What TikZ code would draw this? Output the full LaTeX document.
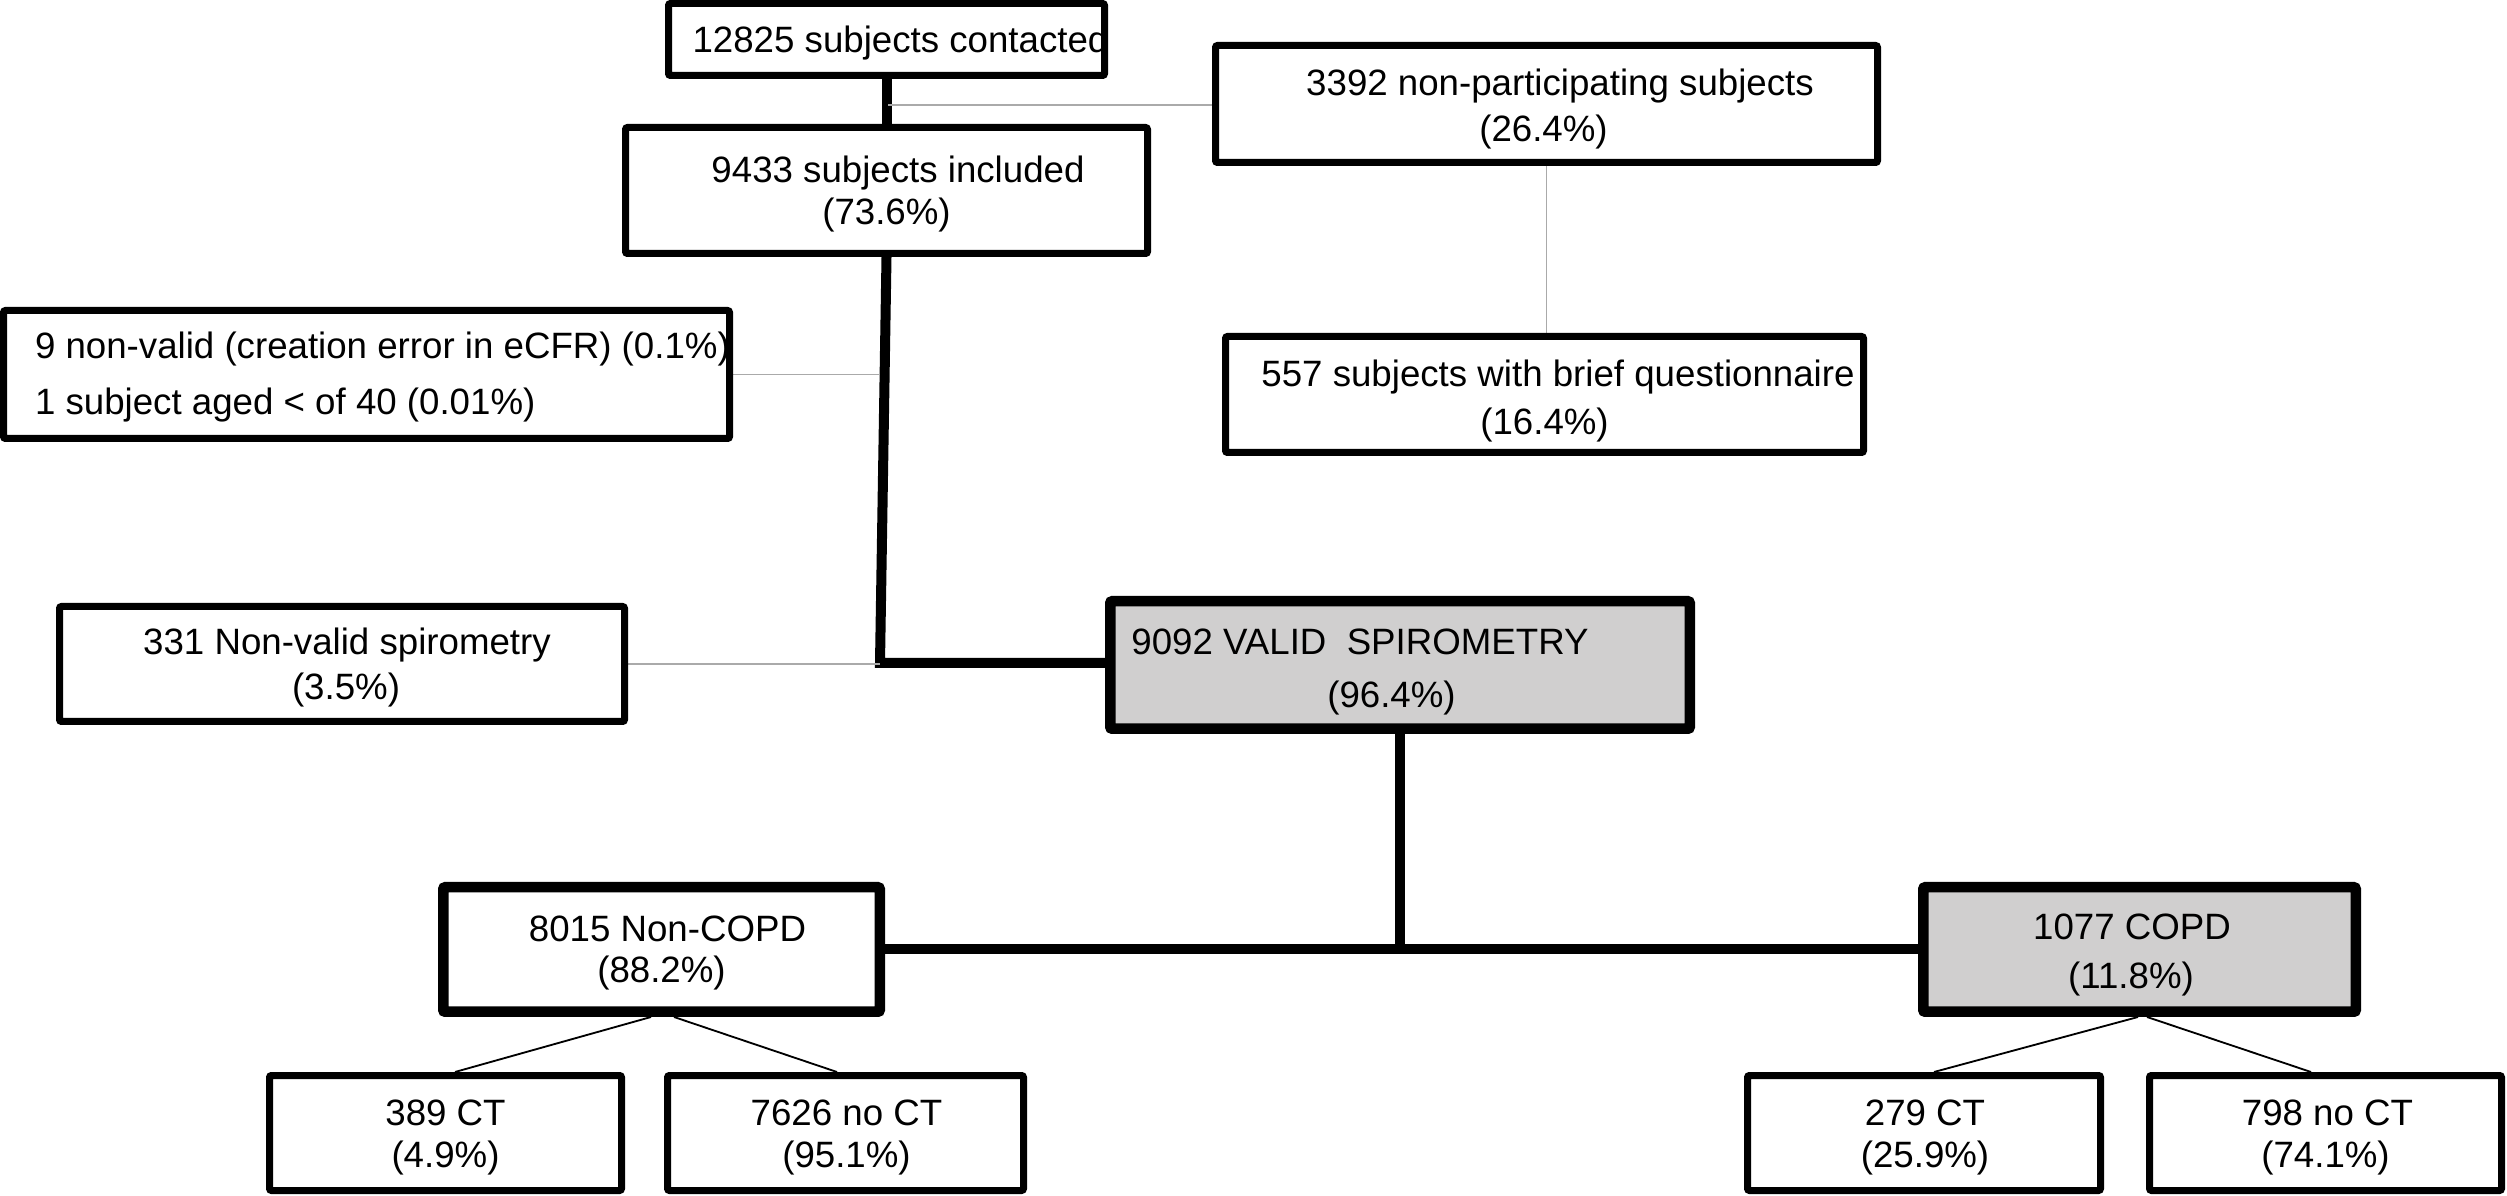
\documentclass[tikz,border=0pt]{standalone}
\usepackage{fontspec}
\setmainfont{Liberation Sans}
\pgfdeclarelayer{background}
\pgfsetlayers{background,main}
\definecolor{boxgray}{RGB}{208,207,207}
\definecolor{linegray}{RGB}{170,170,170}
\newcommand\boxline[3]{\makebox[0pt][c]{\hspace*{#1}\hspace*{#1}\raisebox{#2}[0pt][0pt]{#3}}}
\newcommand\boxlineL[3]{\makebox[0pt][l]{\hspace*{#1}\raisebox{#2}[0pt][0pt]{#3}}}
\begin{document}
\begin{tikzpicture}[x=0.3pt,y=-0.3pt,
  box/.style={draw=black,line width=2.1pt,fill=white,inner sep=0pt,rounded corners=0.6pt,font=\fontsize{11}{13}\selectfont},
  keybox/.style={box,line width=3.15pt},
  shaded/.style={fill=boxgray},
  thickline/.style={line width=3pt,black},
  greyline/.style={line width=0.5pt,linegray},
  thinline/.style={line width=0.55pt,black}]
\useasboundingbox (0,0) rectangle (2507,1196);

\node[box,minimum width=130.8pt,minimum height=21.6pt] (A) at (886.5,39.5)
  {\boxline{4.2pt}{-4.05pt}{12825 subjects contacted}};
\node[box,minimum width=198.6pt,minimum height=35.1pt] (B) at (1546.5,104)
  {\boxline{4.05pt}{2.4pt}{3392 non-participating subjects}\boxline{-0.9pt}{-11.4pt}{(26.4\%)}};
\node[box,minimum width=156.6pt,minimum height=37.8pt] (C) at (886.5,190.5)
  {\boxline{3.45pt}{2.25pt}{9433 subjects included}\boxline{0pt}{-10.35pt}{(73.6\%)}};
\node[box,minimum width=217.8pt,minimum height=38.4pt] (D) at (366.5,374.5)
  {\boxlineL{-99.45pt}{4.65pt}{9 non-valid (creation error in eCFR) (0.1\%)}\boxlineL{-99.45pt}{-12.15pt}{1 subject aged < of 40 (0.01\%)}};
\node[box,minimum width=191.4pt,minimum height=34.8pt] (E) at (1544.5,394.5)
  {\boxline{4.05pt}{2.25pt}{557 subjects with brief questionnaire}\boxline{0pt}{-12.15pt}{(16.4\%)}};
\node[box,minimum width=169.5pt,minimum height=34.5pt] (F) at (342,664)
  {\boxline{1.5pt}{2.7pt}{331 Non-valid spirometry}\boxline{1.2pt}{-10.8pt}{(3.5\%)}};
\node[keybox,shaded,minimum width=173.85pt,minimum height=38.25pt] (G) at (1400,665)
  {\boxline{-12pt}{3pt}{9092 VALID~ SPIROMETRY}\boxline{-2.55pt}{-12.9pt}{(96.4\%)}};
\node[keybox,minimum width=130.95pt,minimum height=37.35pt] (H) at (661.5,949.5)
  {\boxline{1.8pt}{2.25pt}{8015 Non-COPD}\boxline{0pt}{-10.05pt}{(88.2\%)}};
\node[keybox,shaded,minimum width=129.75pt,minimum height=37.35pt] (I) at (2139.5,949.5)
  {\boxline{-2.25pt}{2.85pt}{1077 COPD}\boxline{-2.55pt}{-11.85pt}{(11.8\%)}};
\node[box,minimum width=105.6pt,minimum height=34.5pt] (J) at (445.5,1133)
  {\boxline{0pt}{2.4pt}{389 CT}\boxline{0pt}{-10.35pt}{(4.9\%)}};
\node[box,minimum width=106.8pt,minimum height=34.5pt] (K) at (845.5,1133)
  {\boxline{0.3pt}{2.4pt}{7626 no CT}\boxline{0.3pt}{-10.35pt}{(95.1\%)}};
\node[box,minimum width=105.9pt,minimum height=34.5pt] (L) at (1924,1133)
  {\boxline{0.3pt}{2.4pt}{279 CT}\boxline{0.3pt}{-10.35pt}{(25.9\%)}};
\node[box,minimum width=105.6pt,minimum height=34.5pt] (M) at (2325.5,1133)
  {\boxline{0.6pt}{2.4pt}{798 no CT}\boxline{0pt}{-10.35pt}{(74.1\%)}};

\begin{pgfonlayer}{background}
\coordinate (j1) at (888,105);
\coordinate (j2) at (880,663);
\draw[thickline] (A.south) -- (A.south |- C.north);
\draw[greyline] (j1) -- (B.west |- j1);
\draw[thickline] (C.south) -- (j2) -- (j2 -| G.west);
\draw[greyline] (D.east) -- (D.east -| j2);
\draw[greyline] (F.east) -- (F.east -| j2);
\draw[greyline] (B.south) -- (B.south |- E.north);
\draw[thickline] (G.south) -- (G.south |- H.east);
\draw[thickline] (H.east) -- (I.west);
\draw[thinline] ([xshift=-3.15pt]H.south) -- ([xshift=2.85pt]J.north);
\draw[thinline] ([xshift=3.75pt]H.south) -- ([xshift=-2.55pt]K.north);
\draw[thinline] ([xshift=-0.45pt]I.south) -- ([xshift=3pt]L.north);
\draw[thinline] ([xshift=2.25pt]I.south) -- ([xshift=-4.35pt]M.north);
\end{pgfonlayer}
\end{tikzpicture}
\end{document}
